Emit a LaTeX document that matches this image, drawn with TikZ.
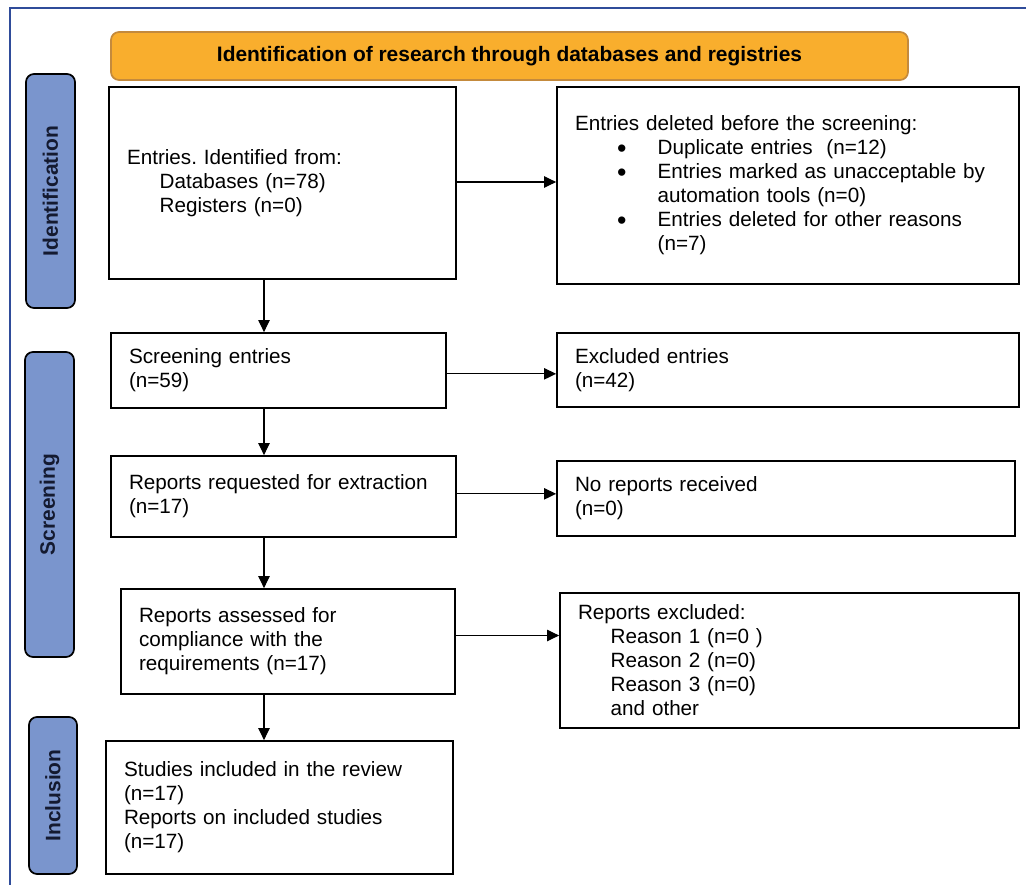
\documentclass[tikz,border=0pt]{standalone}
\usepackage{fontspec}
\setmainfont{Liberation Sans}
\usetikzlibrary{arrows.meta}

\definecolor{frameblue}{HTML}{2F4C9A}
\definecolor{headorange}{HTML}{F9AE2D}
\definecolor{headedge}{HTML}{C48A3C}
\definecolor{phaseblue}{HTML}{7A95CD}
\definecolor{phasetext}{HTML}{141A30}

\newcommand{\bigbullet}{\smash{\raisebox{-1.8pt}{\scalebox{1.3}{\textbullet}}}}

\tikzset{
  box/.style={draw,line width=1.3pt,align=left,inner xsep=13.5pt,font=\fontsize{15.5}{18}\selectfont},
  phase/.style={draw,line width=1.3pt,fill=phaseblue,rounded corners=6pt,rotate=90,text=phasetext,font=\fontsize{15.7}{18}\selectfont\bfseries},
  arr/.style={-{Triangle[length=9pt,width=8.5pt]},line width=0.8pt},
}

\begin{document}
\begin{tikzpicture}[x=0.75pt,y=-0.75pt]
  \useasboundingbox (0,0) rectangle (1026,885);
  \draw[frameblue,line width=2pt] (10,885) -- (10,8) -- (1026,8);

  \node[draw=headedge,fill=headorange,line width=1.3pt,rounded corners=6pt,minimum width=597.75pt,minimum height=36pt,font=\fontsize{15.7}{18}\selectfont\bfseries] (header) at (509.5,56) {Identification of research through databases and registries};

  \node[phase,minimum width=175.5pt,minimum height=36.75pt] (identification) at (50.5,191) {Identification};
  \node[phase,minimum width=228.75pt,minimum height=36.75pt] (screening) at (49.5,504.5) {Screening};
  \node[phase,minimum width=117.75pt,minimum height=36pt] (inclusion) at (53,795.5) {Inclusion};

  \node[box,text width=233.25pt,minimum height=144pt] (identified) at (282.5,183) {Entries.\ Identified from:\\\hspace*{24.5pt}Databases (n=78)\\\hspace*{24.5pt}Registers (n=0)};
  \node[box,text width=319.5pt,minimum height=147.75pt] (deleted) at (788,185.5) {Entries deleted before the screening:\\
    \hspace*{31.5pt}\makebox[30.5pt][l]{\bigbullet}Duplicate entries~ (n=12)\\
    \hspace*{31.5pt}\makebox[30.5pt][l]{\bigbullet}Entries marked as unacceptable by\\
    \hspace*{62pt}automation tools (n=0)\\
    \hspace*{31.5pt}\makebox[30.5pt][l]{\bigbullet}Entries deleted for other reasons\\
    \hspace*{62pt}(n=7)};

  \node[box,text width=224.25pt,minimum height=56.25pt] (screened) at (278.5,370.5) {Screening entries\\(n=59)};
  \node[box,text width=319.5pt,minimum height=55.5pt] (excluded) at (788,370) {Excluded entries\\(n=42)};

  \node[box,text width=231.75pt,minimum height=60.75pt] (requested) at (283.5,496.5) {Reports requested for extraction\\(n=17)};
  \node[box,text width=316.5pt,minimum height=56.25pt] (notreceived) at (786,498.5) {No reports received\\(n=0)};

  \node[box,text width=223.5pt,minimum height=78.75pt] (assessed) at (288,641.5) {Reports assessed for\\compliance with the\\requirements (n=17)};
  \node[box,text width=317.25pt,minimum height=101.25pt] (reportsout) at (789.5,660.5) {Reports excluded:\\
    \hspace*{24.5pt}Reason 1 (n=0 )\\
    \hspace*{24.5pt}Reason 2 (n=0)\\
    \hspace*{24.5pt}Reason 3 (n=0)\\
    \hspace*{24.5pt}and other};

  \node[box,text width=233.25pt,minimum height=99.75pt] (included) at (279.5,807.5) {Studies included in the review\\(n=17)\\Reports on included studies\\(n=17)};

  \coordinate (spine) at (264,0);
  \draw[arr] (identified.south -| spine) -- (screened.north -| spine);
  \draw[arr] (screened.south -| spine) -- (requested.north -| spine);
  \draw[arr] (requested.south -| spine) -- (assessed.north -| spine);
  \draw[arr] (assessed.south -| spine) -- (included.north -| spine);

  \draw[arr] ([yshift=0.75pt]identified.east) -- ([yshift=0.75pt]identified.east -| deleted.west);
  \draw[arr] ([yshift=-2.5pt]screened.east) -- ([yshift=-2.5pt]screened.east -| excluded.west);
  \draw[arr] ([yshift=2pt]requested.east) -- ([yshift=2pt]requested.east -| notreceived.west);
  \draw[arr] ([yshift=4.5pt]assessed.east) -- ([yshift=4.5pt]assessed.east -| reportsout.west);
\end{tikzpicture}
\end{document}
